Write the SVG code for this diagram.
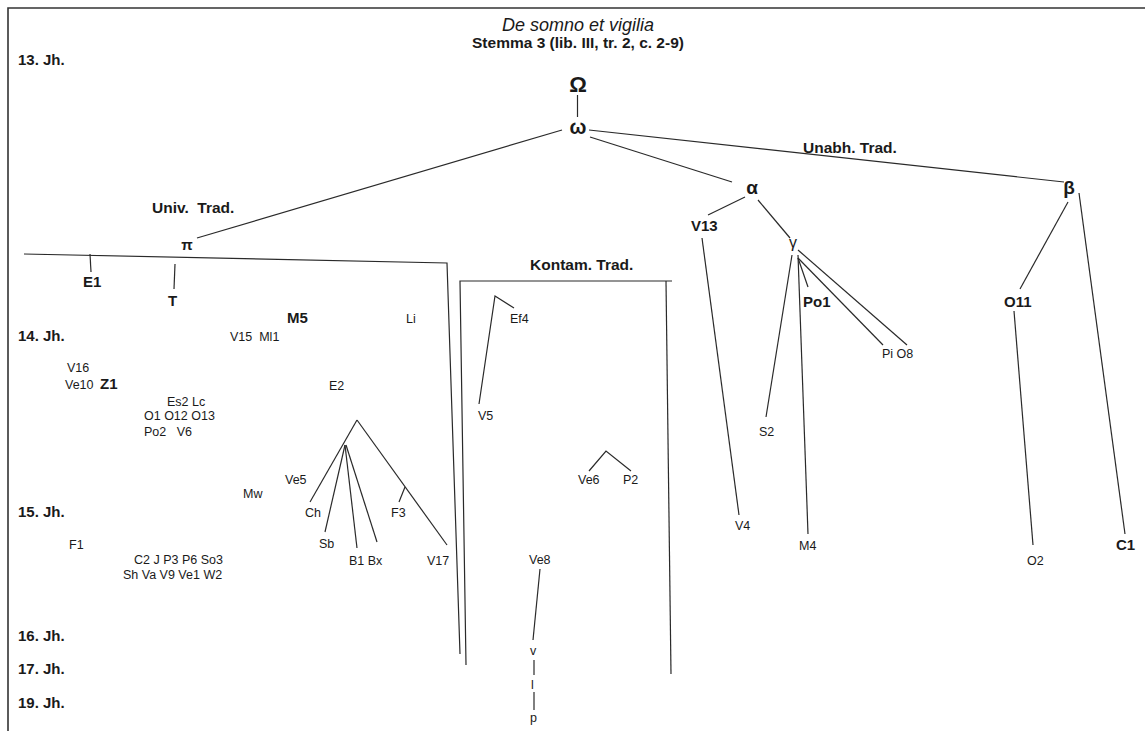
<svg xmlns="http://www.w3.org/2000/svg" width="1145" height="731" viewBox="0 0 1145 731">
<style>
text{font-family:"Liberation Sans",Arial,sans-serif;fill:#1a1a1a}
.s{font-size:12.5px}
.b{font-size:15px;font-weight:bold}
.g{font-size:15.5px;font-weight:bold}
.c{font-size:15px;font-weight:bold}
.gr{font-weight:bold}
line,polyline{stroke:#2a2a2a;stroke-width:1.2;fill:none}
.frame{stroke:#333;stroke-width:1.6;fill:none}
</style>
<rect width="1145" height="731" fill="#fff"/>
<polyline class="frame" points="8,731 8,8 1145,8"/>
<g id="title">
<text x="578" y="31" text-anchor="middle" style="font-size:18px;font-style:italic">De somno et vigilia</text>
<text x="578" y="48" text-anchor="middle" style="font-size:15.5px;font-weight:bold">Stemma 3 (lib. III, tr. 2, c. 2-9)</text>
</g>
<g id="centuries">
<text class="c" x="18" y="65">13. Jh.</text>
<text class="c" x="18" y="341">14. Jh.</text>
<text class="c" x="18" y="517">15. Jh.</text>
<text class="c" x="18" y="641">16. Jh.</text>
<text class="c" x="18" y="674">17. Jh.</text>
<text class="c" x="18" y="708">19. Jh.</text>
</g>
<g id="groups">
<text class="g" x="152" y="213" xml:space="preserve">Univ.  Trad.</text>
<text class="g" x="803" y="153">Unabh. Trad.</text>
<text class="g" x="530" y="270">Kontam. Trad.</text>
</g>
<g id="connectors">
<line x1="577.5" y1="95" x2="577.5" y2="117"/>
<line x1="562" y1="130" x2="197" y2="238"/>
<line x1="590" y1="137" x2="732" y2="182"/>
<line x1="589" y1="130" x2="1064" y2="182"/>
<line x1="745" y1="197" x2="708" y2="215"/>
<line x1="758" y1="200" x2="790" y2="238"/>
<line x1="702" y1="238" x2="739" y2="515"/>
<line x1="792" y1="255" x2="766" y2="417"/>
<line x1="798" y1="255" x2="808" y2="534"/>
<line x1="798" y1="258" x2="808" y2="287"/>
<line x1="798" y1="258" x2="883" y2="345"/>
<line x1="798" y1="250" x2="907" y2="345"/>
<line x1="1068" y1="202" x2="1020" y2="289"/>
<line x1="1079" y1="193" x2="1125" y2="534"/>
<line x1="1014" y1="311" x2="1033" y2="545"/>
<polyline points="24,254 447,263 460,654"/>
<line x1="90" y1="254" x2="91" y2="272"/>
<line x1="175" y1="264" x2="174" y2="289"/>
<polyline points="466,665 460,281 672,281"/>
<line x1="666" y1="281" x2="671" y2="674"/>
<polyline points="514,308 495,296 479,404"/>
<polyline points="589,471 606,451 631,471"/>
<line x1="540" y1="569" x2="533" y2="640"/>
<line x1="534" y1="660" x2="534" y2="675"/>
<line x1="534" y1="692" x2="534" y2="710"/>
<line x1="357" y1="420" x2="310" y2="502"/>
<line x1="357" y1="420" x2="447" y2="545"/>
<line x1="345" y1="445" x2="325" y2="532"/>
<line x1="345" y1="445" x2="357" y2="548"/>
<line x1="346" y1="445" x2="377" y2="542"/>
<line x1="405" y1="487" x2="399" y2="502"/>
</g>
<g id="n-Omega"><text x="578" y="92" text-anchor="middle" style="font-size:22px;font-weight:bold">Ω</text></g>
<g id="n-omega"><text x="578" y="134" text-anchor="middle" style="font-size:20px;font-weight:bold">ω</text></g>
<g id="n-alpha"><text x="752" y="194" text-anchor="middle" style="font-size:19px;font-weight:bold">α</text></g>
<g id="n-beta"><text x="1069" y="194" text-anchor="middle" style="font-size:19px;font-weight:bold">β</text></g>
<g id="n-gamma"><text x="793" y="248" text-anchor="middle" style="font-size:16px">γ</text></g>
<g id="n-pi"><text x="187" y="250" text-anchor="middle" style="font-size:15px;font-weight:bold">π</text></g>
<g id="n-V13"><text class="b" x="691" y="231">V13</text></g>
<g id="n-E1"><text class="b" x="83" y="287">E1</text></g>
<g id="n-T"><text class="b" x="168" y="306">T</text></g>
<g id="n-M5"><text class="b" x="287" y="323">M5</text></g>
<g id="n-Z1"><text class="b" x="100" y="389">Z1</text></g>
<g id="n-Po1"><text class="b" x="803" y="307">Po1</text></g>
<g id="n-O11"><text class="b" x="1004" y="307">O11</text></g>
<g id="n-C1"><text class="b" x="1116" y="550">C1</text></g>
<g id="n-V15-Ml1"><text class="s" x="230" y="341" xml:space="preserve">V15  Ml1</text></g>
<g id="n-Li"><text class="s" x="406" y="323">Li</text></g>
<g id="n-V16"><text class="s" x="67" y="372">V16</text></g>
<g id="n-Ve10"><text class="s" x="65" y="389">Ve10</text></g>
<g id="n-Es2-Lc"><text class="s" x="167" y="406">Es2 Lc</text></g>
<g id="n-O1-O12-O13"><text class="s" x="144" y="420">O1 O12 O13</text></g>
<g id="n-Po2-V6"><text class="s" x="144" y="436" xml:space="preserve">Po2   V6</text></g>
<g id="n-E2"><text class="s" x="329" y="390">E2</text></g>
<g id="n-Ve5"><text class="s" x="285" y="484">Ve5</text></g>
<g id="n-Mw"><text class="s" x="243" y="498">Mw</text></g>
<g id="n-Ch"><text class="s" x="305" y="517">Ch</text></g>
<g id="n-F3"><text class="s" x="391" y="517">F3</text></g>
<g id="n-Sb"><text class="s" x="319" y="548">Sb</text></g>
<g id="n-B1-Bx"><text class="s" x="349" y="565">B1 Bx</text></g>
<g id="n-V17"><text class="s" x="427" y="565">V17</text></g>
<g id="n-F1"><text class="s" x="69" y="549">F1</text></g>
<g id="n-C2"><text class="s" x="134" y="564">C2 J P3 P6 So3</text></g>
<g id="n-Sh"><text class="s" x="123" y="579">Sh Va V9 Ve1 W2</text></g>
<g id="n-Ef4"><text class="s" x="510" y="323">Ef4</text></g>
<g id="n-V5"><text class="s" x="478" y="420">V5</text></g>
<g id="n-Ve6"><text class="s" x="578" y="484">Ve6</text></g>
<g id="n-P2"><text class="s" x="623" y="484">P2</text></g>
<g id="n-Ve8"><text class="s" x="529" y="564">Ve8</text></g>
<g id="n-v"><text class="s" x="530" y="655">v</text></g>
<g id="n-l"><text class="s" x="531" y="689">l</text></g>
<g id="n-p"><text class="s" x="530" y="722">p</text></g>
<g id="n-V4"><text class="s" x="735" y="530">V4</text></g>
<g id="n-S2"><text class="s" x="759" y="436">S2</text></g>
<g id="n-Pi-O8"><text class="s" x="882" y="358">Pi O8</text></g>
<g id="n-M4"><text class="s" x="799" y="550">M4</text></g>
<g id="n-O2"><text class="s" x="1027" y="565">O2</text></g>
</svg>
